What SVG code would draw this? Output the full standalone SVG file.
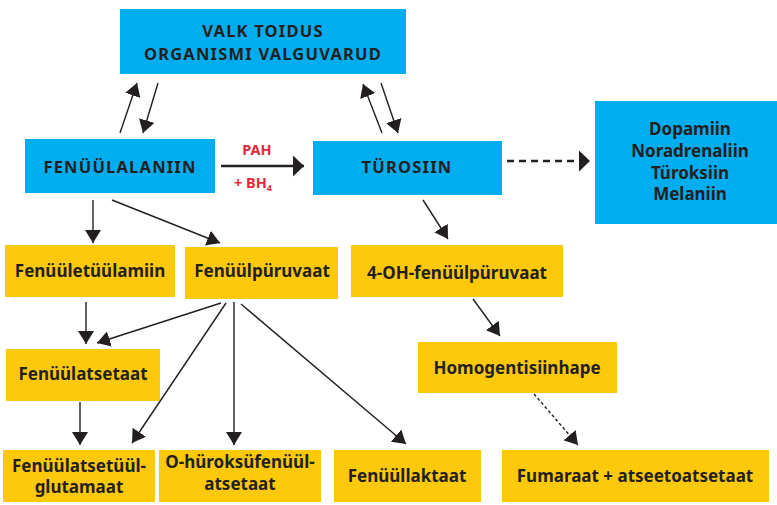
<svg xmlns="http://www.w3.org/2000/svg" width="777" height="505" viewBox="0 0 777 505">
<style>
.b{fill:#00adef}
.y{fill:#fec90b}
text{font-family:"Noto Sans","Open Sans",sans-serif;font-weight:bold;fill:#231f20;text-anchor:middle}
.cap{font-size:16.5px;letter-spacing:1.2px}
.t{font-size:17px}
.red{fill:#e2283a;font-size:14.5px}
.ln{stroke:#231f20;stroke-width:1.4;fill:none;marker-end:url(#a)}
.thk{stroke:#231f20;stroke-width:2.6;fill:none;marker-end:url(#A)}
</style>
<defs>
<marker id="a" markerUnits="userSpaceOnUse" markerWidth="14" markerHeight="16" refX="13" refY="8" orient="auto"><path d="M0,0 L13,8 L0,16 z" fill="#231f20"/></marker>
<marker id="A" markerUnits="userSpaceOnUse" markerWidth="12" markerHeight="21" refX="11" refY="10.5" orient="auto"><path d="M0,0 L11,10.5 L0,21 z" fill="#231f20"/></marker>
</defs>
<g id="valk"><rect class="b" x="120" y="9" width="286" height="65"/><text class="cap" x="263" y="37">VALK TOIDUS</text><text class="cap" x="263" y="60">ORGANISMI VALGUVARUD</text></g>
<g id="fenyylalaniin"><rect class="b" x="25" y="139" width="190" height="54"/><text class="cap" x="120" y="173">FENÜÜLALANIIN</text></g>
<g id="tyrosiin"><rect class="b" x="313" y="141" width="189" height="54"/><text class="cap" x="407" y="173">TÜROSIIN</text></g>
<g id="dopamiin"><rect class="b" x="595" y="101" width="182" height="123"/><text class="t" x="690" y="135">Dopamiin</text><text class="t" x="690" y="157">Noradrenaliin</text><text class="t" x="690" y="179">Türoksiin</text><text class="t" x="690" y="200">Melaniin</text></g>
<g id="fenyyletyylamiin"><rect class="y" x="5" y="245" width="170" height="52"/><text class="t" x="90" y="277">Fenüületüülamiin</text></g>
<g id="fenyylpyruvaat"><rect class="y" x="185" y="247" width="153" height="52"/><text class="t" x="262" y="277">Fenüülpüruvaat</text></g>
<g id="oh-fenyylpyruvaat"><rect class="y" x="351" y="245" width="212" height="52"/><text class="t" x="457" y="279">4-OH-fenüülpüruvaat</text></g>
<g id="fenyylatsetaat"><rect class="y" x="6" y="349" width="154" height="52"/><text class="t" x="83" y="380">Fenüülatsetaat</text></g>
<g id="homogentisiinhape"><rect class="y" x="418" y="342" width="199" height="51"/><text class="t" x="517" y="374">Homogentisiinhape</text></g>
<g id="glutamaat"><rect class="y" x="3" y="450" width="152" height="52"/><text class="t" x="79" y="472">Fenüülatsetüül-</text><text class="t" x="79" y="493">glutamaat</text></g>
<g id="hydroksy"><rect class="y" x="159" y="450" width="162" height="52"/><text class="t" x="240" y="468">O-hüroksüfenüül-</text><text class="t" x="240" y="490">atsetaat</text></g>
<g id="laktaat"><rect class="y" x="334" y="450" width="147" height="52"/><text class="t" x="407" y="482">Fenüüllaktaat</text></g>
<g id="fumaraat"><rect class="y" x="502" y="450" width="267" height="52"/><text class="t" x="635" y="482">Fumaraat + atseetoatsetaat</text></g>
<g id="connectors">
<line class="ln" x1="120" y1="133" x2="137" y2="83"/>
<line class="ln" x1="158" y1="83" x2="143" y2="133"/>
<line class="ln" x1="382" y1="133" x2="363" y2="84"/>
<line class="ln" x1="381" y1="83" x2="398" y2="133"/>
<line class="thk" x1="221" y1="166" x2="304" y2="166"/>
<text class="red" x="257" y="155">PAH</text>
<text class="red" x="253" y="188">+ BH<tspan font-size="9" dy="3">4</tspan></text>
<line class="thk" x1="507" y1="161" x2="590" y2="161" stroke-dasharray="7 5"/>
<line class="ln" x1="423" y1="200" x2="448" y2="239"/>
<line class="ln" x1="93" y1="200" x2="93" y2="243"/>
<line class="ln" x1="112" y1="200" x2="220" y2="243"/>
<line class="ln" x1="86" y1="302" x2="86" y2="344"/>
<line class="ln" x1="221" y1="303" x2="97" y2="343"/>
<line class="ln" x1="226" y1="303" x2="132" y2="443"/>
<line class="ln" x1="234" y1="302" x2="234" y2="445"/>
<line class="ln" x1="241" y1="304" x2="406" y2="444"/>
<line class="ln" x1="80" y1="402" x2="80" y2="445"/>
<line class="ln" x1="473" y1="299" x2="500" y2="336"/>
<line class="ln" x1="534" y1="394" x2="578" y2="445" stroke-dasharray="3 2.5"/>
</g>
</svg>
